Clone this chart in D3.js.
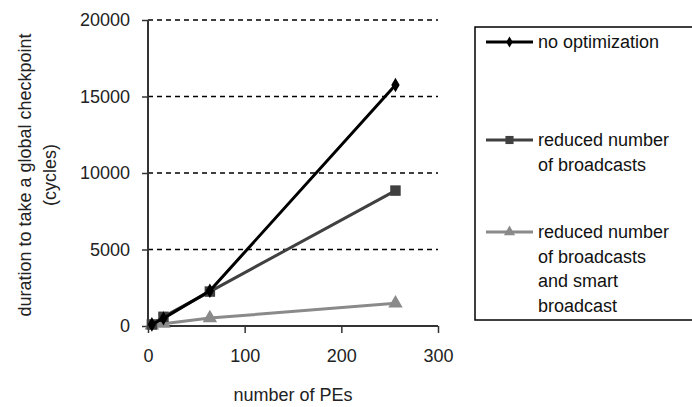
<!DOCTYPE html>
<html><head><meta charset="utf-8">
<script src="https://cdn.jsdelivr.net/npm/d3@7"></script>
<style>
html,body{margin:0;padding:0;background:#fff;}
svg{display:block;font-family:"Liberation Sans",Arial,sans-serif;}
</style></head>
<body>
<svg id="c" width="692" height="407"></svg>
<script>
const pes = [4, 16, 64, 256];
const noOptimization = [100, 500, 2300, 15750];
const reducedBroadcasts = [100, 600, 2250, 8850];
const smartBroadcast = [50, 150, 520, 1480];
const seriesNames = ["no optimization", "reduced number of broadcasts", "reduced number of broadcasts and smart broadcast"];
const legendLines = [["no optimization"], ["reduced number", "of broadcasts"], ["reduced number", "of broadcasts", "and smart", "broadcast"]];
const xTicks = [0, 100, 200, 300];
const yTicks = [0, 5000, 10000, 15000, 20000];

const svg = d3.select("#c");
const x = d3.scaleLinear().domain([0, 300]).range([148, 438]);
const y = d3.scaleLinear().domain([0, 20000]).range([326, 20]);

// gridlines
svg.append("g").selectAll("line").data(yTicks.filter(d => d > 0)).join("line")
  .attr("x1", x(0)).attr("x2", x(300)).attr("y1", d => y(d)).attr("y2", d => y(d))
  .attr("stroke", "#000").attr("stroke-width", 1.5).attr("stroke-dasharray", "5,4");

// axes
const yAxis = d3.axisLeft(y).tickValues(yTicks).tickSize(6).tickPadding(12).tickFormat(d3.format("d"));
const gy = svg.append("g").attr("transform", `translate(${x(0)},0)`).call(yAxis);
const xAxis = d3.axisBottom(x).tickValues(xTicks).tickSize(7).tickPadding(16).tickFormat(d3.format("d"));
const gx = svg.append("g").attr("transform", `translate(0,${y(0)})`).call(xAxis);
[gx, gy].forEach(g => {
  g.select(".domain").attr("stroke", "#333").attr("stroke-width", 2);
  g.selectAll(".tick line").attr("stroke", "#333").attr("stroke-width", 1.5);
  g.selectAll("text").attr("fill", "#222").style("font-size", "18px").style("font-family", '"Liberation Sans",Arial,sans-serif');
});
gy.select(".domain").attr("d", `M0,${y(0)}V${y(20000)}`);
gx.select(".domain").attr("d", `M${x(0)},0H${x(300)}`);
gy.selectAll(".tick line").attr("x2", -6);

// axis titles
svg.append("text").attr("x", x(150)).attr("y", 401).attr("text-anchor", "middle")
  .style("font-size", "18px").attr("fill", "#222").text("number of PEs");
const yt = svg.append("text").attr("transform", "translate(25,175) rotate(-90)").attr("text-anchor", "middle")
  .style("font-size", "18px").attr("fill", "#222");
yt.append("tspan").attr("x", 0).attr("dy", "0.35em").text("duration to take a global checkpoint");
yt.append("tspan").attr("x", 0).attr("dy", "1.35em").text("(cycles)");

const series = [
  {vals: noOptimization, color: "#000", shape: d3.symbolDiamond, size: 60},
  {vals: reducedBroadcasts, color: "#404040", shape: d3.symbolSquare, size: 110},
  {vals: smartBroadcast, color: "#8a8a8a", shape: d3.symbolTriangle, size: 90}
];
const line = d3.line().x(d => x(d[0])).y(d => y(d[1]));
[2, 1, 0].forEach(i => {
  const s = series[i];
  const pts = pes.map((p, j) => [p, s.vals[j]]);
  svg.append("path").attr("d", line(pts)).attr("fill", "none").attr("stroke", s.color).attr("stroke-width", 3);
  svg.append("g").selectAll("path").data(pts).join("path")
    .attr("transform", d => `translate(${x(d[0])},${y(d[1])})`)
    .attr("d", d3.symbol(s.shape, s.size)).attr("fill", s.color);
});

// legend
svg.append("rect").attr("x", 475).attr("y", 27).attr("width", 240).attr("height", 293)
  .attr("fill", "#fff").attr("stroke", "#000").attr("stroke-width", 1.5);
const legY = [42, 140, 232];
series.forEach((s, i) => {
  const ly = legY[i];
  svg.append("line").attr("x1", 486).attr("x2", 533).attr("y1", ly).attr("y2", ly)
    .attr("stroke", s.color).attr("stroke-width", 3);
  svg.append("path").attr("transform", `translate(509.5,${ly})`).attr("d", d3.symbol(s.shape, s.size * 0.6)).attr("fill", s.color);
  legendLines[i].forEach((t, k) => {
    svg.append("text").attr("x", 538).attr("y", ly + k * 24.5).attr("dy", "0.35em")
      .style("font-size", "18px").attr("fill", "#111").text(t);
  });
});
</script>
</body></html>
